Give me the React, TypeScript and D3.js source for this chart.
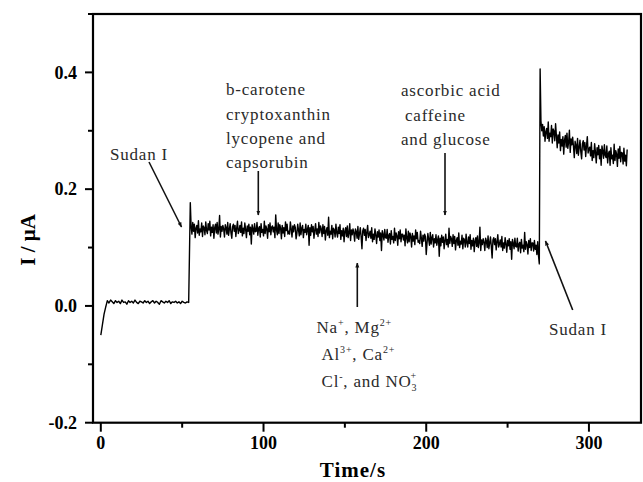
import React from "react";
import * as d3 from "d3";

// Current trace (µA). Segment A sampled every 1 s, segments B and C every 0.5 s.
const segAStart = 0;
const segAStep = 1;
const segA = [
  -0.050, -0.032, -0.014, -0.002, 0.009, 0.005, 0.010, 0.007, 0.004, 0.009,
  0.006, 0.008, 0.004, 0.010, 0.006, 0.007, 0.003, 0.009, 0.006, 0.008,
  0.005, 0.010, 0.006, 0.004, 0.008, 0.007, 0.005, 0.009, 0.006, 0.008,
  0.004, 0.007, 0.009, 0.005, 0.008, 0.006, 0.003, 0.009, 0.007, 0.005,
  0.008, 0.006, 0.009, 0.004, 0.007, 0.006, 0.008, 0.005, 0.007, 0.004,
  0.008, 0.006, 0.005, 0.007, 0.006,
];
const segBStart = 55;
const segBStep = 0.5;
const segB = [
  0.177,
  0.136, 0.123, 0.143, 0.128, 0.140, 0.117, 0.133, 0.138, 0.125, 0.146, 0.121, 0.132, 0.127, 0.142, 0.119, 0.137, 0.134, 0.122, 0.144, 0.129,
  0.124, 0.141, 0.130, 0.145, 0.120, 0.135, 0.126, 0.139, 0.116, 0.134, 0.140, 0.125, 0.143, 0.123, 0.131, 0.155, 0.118, 0.136, 0.128, 0.138,
  0.132, 0.118, 0.139, 0.134, 0.123, 0.143, 0.121, 0.131, 0.141, 0.125, 0.116, 0.136, 0.140, 0.128, 0.138, 0.119, 0.133, 0.145, 0.124, 0.129,
  0.138, 0.126, 0.144, 0.120, 0.133, 0.124, 0.142, 0.131, 0.117, 0.137, 0.128, 0.140, 0.122, 0.135, 0.106, 0.139, 0.132, 0.123, 0.141, 0.127,
  0.128, 0.143, 0.121, 0.133, 0.136, 0.118, 0.141, 0.126, 0.131, 0.120, 0.145, 0.124, 0.137, 0.132, 0.116, 0.139, 0.127, 0.142, 0.122, 0.135,
  0.137, 0.127, 0.135, 0.117, 0.156, 0.130, 0.122, 0.142, 0.124, 0.139, 0.133, 0.115, 0.138, 0.125, 0.134, 0.119, 0.144, 0.129, 0.140, 0.123,
  0.128, 0.123, 0.144, 0.132, 0.118, 0.137, 0.127, 0.139, 0.135, 0.115, 0.124, 0.140, 0.130, 0.120, 0.142, 0.122, 0.133, 0.138, 0.117, 0.131,
  0.126, 0.140, 0.122, 0.131, 0.138, 0.104, 0.134, 0.121, 0.139, 0.127, 0.136, 0.116, 0.130, 0.141, 0.123, 0.132, 0.119, 0.143, 0.125, 0.137,
  0.132, 0.119, 0.139, 0.124, 0.136, 0.113, 0.129, 0.134, 0.121, 0.152, 0.117, 0.128, 0.123, 0.138, 0.115, 0.133, 0.130, 0.118, 0.140, 0.125,
  0.118, 0.135, 0.124, 0.139, 0.114, 0.129, 0.120, 0.133, 0.110, 0.128, 0.134, 0.119, 0.137, 0.117, 0.125, 0.141, 0.112, 0.130, 0.122, 0.132,
  0.125, 0.111, 0.132, 0.127, 0.116, 0.136, 0.114, 0.124, 0.134, 0.118, 0.098, 0.129, 0.133, 0.121, 0.131, 0.112, 0.126, 0.138, 0.117, 0.122,
  0.128, 0.116, 0.134, 0.110, 0.123, 0.114, 0.132, 0.121, 0.107, 0.127, 0.118, 0.130, 0.112, 0.125, 0.095, 0.129, 0.122, 0.113, 0.131, 0.117,
  0.116, 0.131, 0.109, 0.121, 0.124, 0.106, 0.129, 0.114, 0.119, 0.108, 0.133, 0.112, 0.125, 0.120, 0.104, 0.127, 0.115, 0.130, 0.110, 0.123,
  0.123, 0.113, 0.121, 0.103, 0.132, 0.116, 0.108, 0.128, 0.110, 0.125, 0.119, 0.101, 0.124, 0.111, 0.120, 0.105, 0.130, 0.115, 0.126, 0.109,
  0.112, 0.107, 0.128, 0.116, 0.102, 0.121, 0.111, 0.123, 0.119, 0.088, 0.108, 0.124, 0.114, 0.104, 0.126, 0.106, 0.117, 0.122, 0.101, 0.115,
  0.108, 0.122, 0.104, 0.113, 0.120, 0.085, 0.116, 0.103, 0.121, 0.109, 0.118, 0.098, 0.112, 0.123, 0.105, 0.114, 0.101, 0.133, 0.107, 0.119,
  0.115, 0.102, 0.122, 0.107, 0.119, 0.096, 0.112, 0.117, 0.104, 0.125, 0.100, 0.111, 0.106, 0.121, 0.098, 0.116, 0.113, 0.101, 0.123, 0.108,
  0.101, 0.118, 0.107, 0.122, 0.097, 0.112, 0.103, 0.116, 0.093, 0.111, 0.117, 0.102, 0.120, 0.100, 0.108, 0.135, 0.095, 0.113, 0.105, 0.115,
  0.109, 0.095, 0.116, 0.111, 0.100, 0.120, 0.098, 0.108, 0.118, 0.102, 0.082, 0.113, 0.117, 0.105, 0.115, 0.096, 0.110, 0.122, 0.101, 0.106,
  0.113, 0.101, 0.119, 0.095, 0.108, 0.099, 0.117, 0.106, 0.092, 0.112, 0.103, 0.115, 0.097, 0.110, 0.080, 0.114, 0.107, 0.098, 0.116, 0.102,
  0.101, 0.116, 0.094, 0.106, 0.109, 0.091, 0.114, 0.099, 0.104, 0.093, 0.126, 0.097, 0.110, 0.105, 0.089, 0.112, 0.100, 0.115, 0.095, 0.108,
  0.108, 0.094, 0.112, 0.097, 0.104, 0.088, 0.110, 0.086, 0.072,
];
const segCStart = 270;
const segCStep = 0.5;
const segC = [
  0.406,
  0.317, 0.300, 0.311, 0.291, 0.307, 0.282, 0.298, 0.304, 0.287, 0.315, 0.282, 0.296, 0.290, 0.309, 0.279, 0.303, 0.299, 0.283, 0.312, 0.292,
  0.271, 0.293, 0.279, 0.298, 0.266, 0.285, 0.274, 0.290, 0.260, 0.284, 0.292, 0.272, 0.296, 0.270, 0.280, 0.301, 0.263, 0.286, 0.276, 0.289,
  0.273, 0.254, 0.282, 0.275, 0.261, 0.287, 0.258, 0.271, 0.284, 0.264, 0.252, 0.278, 0.283, 0.267, 0.280, 0.256, 0.274, 0.290, 0.262, 0.269,
  0.272, 0.257, 0.280, 0.249, 0.266, 0.254, 0.278, 0.263, 0.245, 0.271, 0.259, 0.275, 0.252, 0.268, 0.241, 0.274, 0.265, 0.253, 0.276, 0.258,
  0.254, 0.274, 0.245, 0.261, 0.265, 0.241, 0.271, 0.252, 0.258, 0.244, 0.277, 0.249, 0.266, 0.260, 0.239, 0.269, 0.253, 0.273, 0.247, 0.263,
  0.262, 0.243, 0.270, 0.248, 0.258, 0.240, 0.268,
];

const xMajorTicks = [0, 100, 200, 300];
const xMinorTicks = [50, 150, 250];
const yMajorTicks = [-0.2, 0.0, 0.2, 0.4];
const yMinorTicks = [-0.1, 0.1, 0.3, 0.5];

const W = 643;
const H = 482;
const plot = { left: 93, right: 641, top: 14, bottom: 422.7 };

const serif = "'Liberation Serif', 'Times New Roman', serif";

export default function App() {
  const x = d3.scaleLinear().domain([-4.8, 332]).range([plot.left, plot.right]);
  const y = d3.scaleLinear().domain([-0.2, 0.5]).range([plot.bottom, plot.top]);

  const pts: [number, number][] = [];
  segA.forEach((v, i) => pts.push([segAStart + i * segAStep, v]));
  segB.forEach((v, i) => pts.push([segBStart + i * segBStep, v]));
  segC.forEach((v, i) => pts.push([segCStart + i * segCStep, v]));

  const line = d3
    .line<[number, number]>()
    .x((d) => x(d[0]))
    .y((d) => y(d[1]));

  const fmtY = (t: number) => d3.format(".1f")(t).replace("\u2212", "-");

  const annoColor = "#2a2a2a";
  const annoStyle = {
    fontFamily: serif,
    fontSize: 17,
    letterSpacing: 0.8,
    fill: annoColor,
  } as React.CSSProperties;

  return (
    <svg
      width={W}
      height={H}
      style={{ position: "absolute", left: 0, top: 0, background: "#fff" }}
    >
      <defs>
        <marker
          id="ah"
          viewBox="0 0 10 10"
          refX="9"
          refY="5"
          markerWidth="5"
          markerHeight="7"
          orient="auto"
          markerUnits="userSpaceOnUse"
        >
          <path d="M0,1 L10,5 L0,9 Z" fill="#111" />
        </marker>
      </defs>

      {/* trace */}
      <path d={line(pts) || ""} fill="none" stroke="#000" strokeWidth={1.4} strokeLinejoin="round" />

      {/* frame */}
      <rect
        x={plot.left}
        y={plot.top}
        width={plot.right - plot.left}
        height={plot.bottom - plot.top}
        fill="none"
        stroke="#000"
        strokeWidth={2.2}
      />

      {/* y ticks */}
      {yMajorTicks.map((t) => (
        <g key={"ym" + t}>
          <line x1={plot.left - 8} x2={plot.left} y1={y(t)} y2={y(t)} stroke="#000" strokeWidth={2} />
          <text
            x={77}
            y={y(t)}
            dy="0.35em"
            textAnchor="end"
            style={{ fontFamily: serif, fontWeight: "bold", fontSize: 18 }}
          >
            {fmtY(t)}
          </text>
        </g>
      ))}
      {yMinorTicks.map((t) => (
        <line key={"yn" + t} x1={plot.left - 5} x2={plot.left} y1={y(t)} y2={y(t)} stroke="#000" strokeWidth={2} />
      ))}

      {/* x ticks */}
      {xMajorTicks.map((t) => (
        <g key={"xm" + t}>
          <line x1={x(t)} x2={x(t)} y1={plot.bottom} y2={plot.bottom + 9} stroke="#000" strokeWidth={2} />
          <text
            x={x(t)}
            y={449}
            textAnchor="middle"
            style={{ fontFamily: serif, fontWeight: "bold", fontSize: 18 }}
          >
            {t}
          </text>
        </g>
      ))}
      {xMinorTicks.map((t) => (
        <line key={"xn" + t} x1={x(t)} x2={x(t)} y1={plot.bottom} y2={plot.bottom + 5} stroke="#000" strokeWidth={2} />
      ))}

      {/* axis titles */}
      <text
        x={353}
        y={477}
        textAnchor="middle"
        style={{ fontFamily: serif, fontWeight: "bold", fontSize: 21, letterSpacing: 1 }}
      >
        Time/s
      </text>
      <text
        transform="translate(35,240) rotate(-90)"
        textAnchor="middle"
        style={{ fontFamily: serif, fontWeight: "bold", fontSize: 21 }}
      >
        I / μA
      </text>

      {/* annotations */}
      <text x={110} y={160} style={annoStyle}>Sudan I</text>
      <line x1={149} y1={162} x2={181.5} y2={227} stroke="#111" strokeWidth={1.6} markerEnd="url(#ah)" />

      <text x={226} y={95} style={annoStyle}>b-carotene</text>
      <text x={226} y={119.5} style={annoStyle}>cryptoxanthin</text>
      <text x={226} y={143.5} style={annoStyle}>lycopene and</text>
      <text x={226} y={168} style={annoStyle}>capsorubin</text>
      <line x1={258.3} y1={171} x2={258.3} y2={215} stroke="#111" strokeWidth={1.6} markerEnd="url(#ah)" />

      <text x={401} y={96} style={annoStyle}>ascorbic acid</text>
      <text x={405} y={121} style={annoStyle}>caffeine</text>
      <text x={401} y={145} style={annoStyle}>and glucose</text>
      <line x1={445} y1={153} x2={445} y2={215} stroke="#111" strokeWidth={1.6} markerEnd="url(#ah)" />

      <line x1={357.3} y1={307} x2={357.3} y2={263} stroke="#111" strokeWidth={1.6} markerEnd="url(#ah)" />
      <text x={316.5} y={333} style={annoStyle}>
        Na<tspan dy={-7} fontSize={10}>+</tspan>
        <tspan dy={7}>, Mg</tspan>
        <tspan dy={-7} fontSize={10}>2+</tspan>
      </text>
      <text x={321.5} y={360} style={annoStyle}>
        Al<tspan dy={-7} fontSize={10}>3+</tspan>
        <tspan dy={7}>, Ca</tspan>
        <tspan dy={-7} fontSize={10}>2+</tspan>
      </text>
      <text x={321.5} y={387} style={annoStyle}>
        Cl<tspan dy={-7} fontSize={10}>-</tspan>
        <tspan dy={7}>, and NO</tspan>
        <tspan dy={4} fontSize={10}>3</tspan>
        <tspan dx={-7} dy={-12} fontSize={10}>+</tspan>
      </text>

      <text x={549} y={335} style={annoStyle}>Sudan I</text>
      <line x1={572.7} y1={310} x2={545.5} y2={241} stroke="#111" strokeWidth={1.6} markerEnd="url(#ah)" />
    </svg>
  );
}
